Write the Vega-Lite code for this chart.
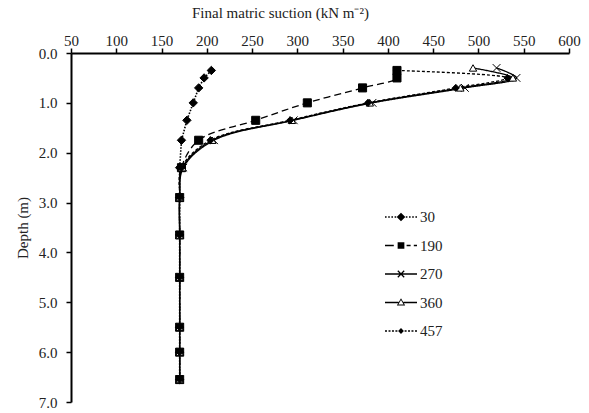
{
  "$schema": "https://vega.github.io/schema/vega-lite/v6.json",
  "autosize": {"type": "none"},
  "width": 498,
  "height": 349,
  "padding": {"left": 71, "top": 53, "right": 20, "bottom": 11},
  "background": "white",
  "config": {
    "view": {"stroke": null},
    "font": "Liberation Serif",
    "axis": {"labelFont": "Liberation Serif", "titleFont": "Liberation Serif", "labelColor": "#222", "titleColor": "#222", "titleFontWeight": "normal", "grid": false, "domainColor": "black", "tickColor": "black", "domainWidth": 2, "tickWidth": 1.5}
  },
  "data": {"values": [
    {"series": "30", "d": 0.35, "s": 205}, {"series": "30", "d": 0.5, "s": 197}, {"series": "30", "d": 0.7, "s": 191}, {"series": "30", "d": 1.0, "s": 185}, {"series": "30", "d": 1.35, "s": 178}, {"series": "30", "d": 1.75, "s": 172}, {"series": "30", "d": 2.3, "s": 170}, {"series": "30", "d": 2.9, "s": 170}, {"series": "30", "d": 3.65, "s": 170}, {"series": "30", "d": 4.5, "s": 170}, {"series": "30", "d": 5.5, "s": 170}, {"series": "30", "d": 6.0, "s": 170}, {"series": "30", "d": 6.55, "s": 170},
    {"series": "190", "d": 0.35, "s": 410}, {"series": "190", "d": 0.5, "s": 410}, {"series": "190", "d": 0.7, "s": 372}, {"series": "190", "d": 1.0, "s": 311}, {"series": "190", "d": 1.35, "s": 254}, {"series": "190", "d": 1.75, "s": 191}, {"series": "190", "d": 2.3, "s": 172}, {"series": "190", "d": 2.9, "s": 170}, {"series": "190", "d": 3.65, "s": 170}, {"series": "190", "d": 4.5, "s": 170}, {"series": "190", "d": 5.5, "s": 170}, {"series": "190", "d": 6.0, "s": 170}, {"series": "190", "d": 6.55, "s": 170},
    {"series": "270", "d": 0.3, "s": 520}, {"series": "270", "d": 0.5, "s": 542}, {"series": "270", "d": 0.7, "s": 485}, {"series": "270", "d": 1.0, "s": 383}, {"series": "270", "d": 1.35, "s": 296}, {"series": "270", "d": 1.75, "s": 208}, {"series": "270", "d": 2.3, "s": 174}, {"series": "270", "d": 2.9, "s": 170}, {"series": "270", "d": 3.65, "s": 170}, {"series": "270", "d": 4.5, "s": 170}, {"series": "270", "d": 5.5, "s": 170}, {"series": "270", "d": 6.0, "s": 170}, {"series": "270", "d": 6.55, "s": 170},
    {"series": "360", "d": 0.3, "s": 494}, {"series": "360", "d": 0.5, "s": 538}, {"series": "360", "d": 0.7, "s": 480}, {"series": "360", "d": 1.0, "s": 380}, {"series": "360", "d": 1.35, "s": 294}, {"series": "360", "d": 1.75, "s": 206}, {"series": "360", "d": 2.3, "s": 173}, {"series": "360", "d": 2.9, "s": 170}, {"series": "360", "d": 3.65, "s": 170}, {"series": "360", "d": 4.5, "s": 170}, {"series": "360", "d": 5.5, "s": 170}, {"series": "360", "d": 6.0, "s": 170}, {"series": "360", "d": 6.55, "s": 170},
    {"series": "457", "d": 0.35, "s": 410}, {"series": "457", "d": 0.5, "s": 532}, {"series": "457", "d": 0.7, "s": 475}, {"series": "457", "d": 1.0, "s": 378}, {"series": "457", "d": 1.35, "s": 292}, {"series": "457", "d": 1.75, "s": 204}, {"series": "457", "d": 2.3, "s": 172}, {"series": "457", "d": 2.9, "s": 170}, {"series": "457", "d": 3.65, "s": 170}, {"series": "457", "d": 4.5, "s": 170}, {"series": "457", "d": 5.5, "s": 170}, {"series": "457", "d": 6.0, "s": 170}, {"series": "457", "d": 6.55, "s": 170}
  ]},
  "encoding": {
    "x": {"field": "s", "type": "quantitative", "scale": {"domain": [50, 600], "nice": false, "zero": false},
      "axis": {"orient": "top", "values": [50,100,150,200,250,300,350,400,450,500,550,600], "title": "Final matric suction (kN m\u207B\u00B2)", "labelFontSize": 15, "titleFontSize": 15, "tickSize": 5, "labelPadding": 0, "titlePadding": 13, "titleX": 209, "labelFlush": false}},
    "y": {"field": "d", "type": "quantitative", "scale": {"domain": [0, 7], "reverse": true, "nice": false, "zero": true},
      "axis": {"values": [0,1,2,3,4,5,6,7], "format": ".1f", "title": "Depth (m)", "labelFontSize": 15, "titleFontSize": 15, "tickSize": 5, "labelPadding": 9, "titlePadding": 8}}
  },
  "layer": [
    {
      "transform": [{"filter": "datum.series == '30'"}],
      "mark": {"type": "line", "color": "black", "strokeWidth": 1.6, "interpolate": "linear"},
      "encoding": {"detail": {"field": "series"}, "order": {"field": "d"},
        "strokeDash": {"field": "series", "scale": {"domain": ["30","190","270","360","457"], "range": [[1.5,1.5],[7,4],[1,0],[1,0],[3,2]]}, "legend": null}}
    },
    {
      "transform": [{"filter": "datum.series != '30'"}],
      "mark": {"type": "line", "color": "black", "strokeWidth": 1.3, "interpolate": "catmull-rom"},
      "encoding": {"detail": {"field": "series"}, "order": {"field": "d"},
        "strokeDash": {"field": "series", "scale": {"domain": ["30","190","270","360","457"], "range": [[1.5,1.5],[7,4],[1,0],[1,0],[3,2]]}, "legend": null}}
    },
    {
      "mark": {"type": "point", "filled": true, "stroke": "black", "strokeWidth": 1, "opacity": 1},
      "encoding": {
        "shape": {"field": "series", "scale": {"domain": ["30","190","270","360","457"], "range": ["diamond", "square", "M-1,-1L1,1M-1,1L1,-1", "triangle-up", "diamond"]}, "legend": null},
        "fill": {"field": "series", "scale": {"domain": ["30","190","270","360","457"], "range": ["black", "black", "black", "white", "black"]}, "legend": null},
        "size": {"field": "series", "scale": {"domain": ["30","190","270","360","457"], "range": [70, 50, 40, 40, 24]}, "legend": null}
      }
    },
    {
      "mark": {"type": "point", "filled": true, "color": "black", "opacity": 0, "size": 1024},
      "encoding": {
        "shape": {"field": "series", "title": null,
          "scale": {"domain": ["30","190","270","360","457"], "range": [
            "M-1,-0.05H-0.9V0.05H-1ZM-0.8,-0.05H-0.7V0.05H-0.8ZM-0.6,-0.05H-0.5V0.05H-0.6ZM-0.4,-0.05H-0.3V0.05H-0.4ZM0.3,-0.05H0.4V0.05H0.3ZM0.5,-0.05H0.6V0.05H0.5ZM0.7,-0.05H0.8V0.05H0.7ZM0.9,-0.05H1V0.05H0.9ZM0,-0.27L0.27,0L0,0.27L-0.27,0Z",
            "M-1,-0.045H-0.45V0.045H-1ZM0.35,-0.045H0.6V0.045H0.35ZM0.8,-0.045H1V0.045H0.8ZM-0.21,-0.21H0.21V0.21H-0.21Z",
            "M-1,-0.04H1V0.04H-1ZM-0.172,-0.228L0.228,0.172L0.172,0.228L-0.228,-0.172ZM-0.228,0.172L0.172,-0.228L0.228,-0.172L-0.172,0.228Z",
            "M-1,-0.04H-0.15V0.04H-1ZM0.15,-0.04H1V0.04H0.15ZM0,-0.26L0.26,0.18L-0.26,0.18ZM0,-0.15L-0.165,0.125L0.165,0.125Z",
            "M-1,-0.04H-0.875V0.04H-1ZM-0.78,-0.04H-0.655V0.04H-0.78ZM-0.565,-0.04H-0.44V0.04H-0.565ZM-0.35,-0.04H-0.225V0.04H-0.35ZM0.225,-0.04H0.35V0.04H0.225ZM0.44,-0.04H0.565V0.04H0.44ZM0.655,-0.04H0.78V0.04H0.655ZM0.875,-0.04H1V0.04H0.875ZM0,-0.18L0.18,0L0,0.18L-0.18,0Z"
          ]},
          "legend": {"orient": "none", "legendX": 314, "legendY": 148, "symbolOpacity": 1, "symbolFillColor": "black", "symbolStrokeWidth": 0, "symbolSize": 1024, "labelFont": "Liberation Serif", "labelFontSize": 15, "labelColor": "#222", "labelOffset": 3, "rowPadding": 4.5}
        }
      }
    }
  ],
  "resolve": {"scale": {"shape": "independent"}}
}
